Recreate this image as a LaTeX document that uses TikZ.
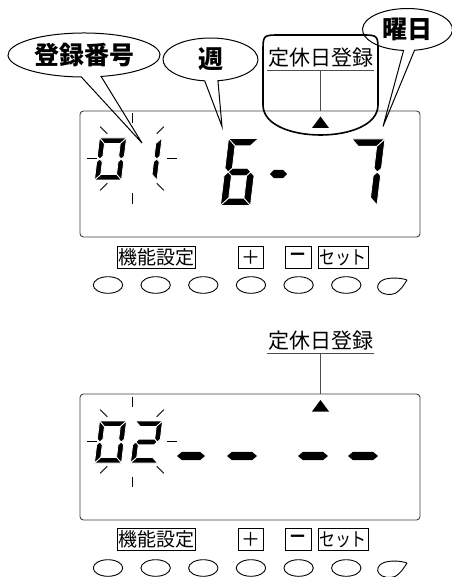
\documentclass[tikz,border=0pt]{standalone}
\usepackage{fontspec}
\newfontfamily\jp{Noto Sans CJK JP}
\usetikzlibrary{positioning, calc}

% seven-segment pieces, local frame: origin at middle left, y down
\newcommand{\lcdsega}{\fill[segfill] (0,-\dh) -- (\dw,-\dh) -- (\dw-\dt,-\dh+\dt) -- (\dt,-\dh+\dt) -- cycle;}
\newcommand{\lcdsegb}{\fill[segfill] (\dw,-\dh) -- (\dw,-\dt/2) -- (\dw-\dt/2,0) -- (\dw-\dt,-\dt/2) -- (\dw-\dt,-\dh+\dt) -- cycle;}
\newcommand{\lcdsegc}{\fill[segfill] (\dw,\dh) -- (\dw,\dt/2) -- (\dw-\dt/2,0) -- (\dw-\dt,\dt/2) -- (\dw-\dt,\dh-\dt) -- cycle;}
\newcommand{\lcdsegd}{\fill[segfill] (0,\dh) -- (\dw,\dh) -- (\dw-\dt,\dh-\dt) -- (\dt,\dh-\dt) -- cycle;}
\newcommand{\lcdsege}{\fill[segfill] (0,\dh) -- (0,\dt/2) -- (\dt/2,0) -- (\dt,\dt/2) -- (\dt,\dh-\dt) -- cycle;}
\newcommand{\lcdsegf}{\fill[segfill] (0,-\dh) -- (0,-\dt/2) -- (\dt/2,0) -- (\dt,-\dt/2) -- (\dt,-\dh+\dt) -- cycle;}
\newcommand{\lcdsegg}{\fill[segfill] (\dt/2,0) -- (\dt,-\dt/2) -- (\dw-\dt,-\dt/2) -- (\dw-\dt/2,0) -- (\dw-\dt,\dt/2) -- (\dt,\dt/2) -- cycle;}
% x, y, width, height, thickness, segments
\newcommand{\lcddigit}[6]{%
  \begin{scope}[shift={(#1,#2)}, xslant=0.12]
    \pgfmathsetmacro{\dw}{#3}\pgfmathsetmacro{\dh}{#4/2}\pgfmathsetmacro{\dt}{#5}
    \foreach \sg in {#6}{\csname lcdseg\sg\endcsname}
  \end{scope}}

\begin{document}
\begin{tikzpicture}[
  x=1pt, y=-1pt,
  font=\jp,
  segfill/.style={fill=black, draw=white, line width=0.8pt, line join=miter},
  display/.style={draw=black!75, line width=0.9pt, rounded corners=3.5pt,
                  minimum width=340pt, minimum height=126pt, inner sep=0},
  tag/.style={font=\jp\bfseries\fontsize{25}{25}\selectfont, inner sep=0},
  bubble/.style={draw, line width=1pt},
  offlbl/.style={font=\jp\fontsize{21}{21}\selectfont, text height=0.8em,
                 text depth=0.12em, inner xsep=0.5pt, inner ysep=3.5pt},
  uline/.style={draw=black!70, line width=1pt},
  keycap/.style={draw, line width=0.8pt, inner sep=0, minimum height=22pt,
                 font=\jp\fontsize{19}{19}\selectfont},
  btn/.style={draw, line width=0.9pt},
  ray/.style={line width=0.9pt}
]
\useasboundingbox[fill=white] (0,0) rectangle (451,577);

%% upper panel
\node[display] (dispTop) at (250,174) {};

\coordinate (blinkTop) at (132,158.5);
\foreach \a in {0,45,...,315}
  \draw[ray] (blinkTop) ++(\a:35) -- ++(\a:10);
\lcddigit{97}{159}{27}{42}{5.6}{a,b,c,d,e,f}
\lcddigit{132.5}{159}{27}{42}{5.6}{b,c}
\lcddigit{224.5}{172}{30}{67}{7.4}{a,f,g,e,d,c}
\fill (270,174) -- (274,169.8) -- (283,169.8) -- (287,174) -- (283,178.2) -- (274,178.2) -- cycle;
\lcddigit{348}{172}{33}{66}{7.4}{a,b,c}

% callouts
\node[tag] (numLbl) at (84,55) {登録番号};
\coordinate (numTip) at (142,143);
\draw[bubble] ($(numLbl.center)+(77:76 and 22)$)
  arc[start angle=77, end angle=-268, x radius=76, y radius=22] -- (numTip) -- cycle;

\node[tag] (weekLbl) at (210.5,59.5) {週};
\coordinate (weekTip) at (222,126.5);
\draw[bubble] ($(weekLbl.center)+(81:47.5 and 21.5)$)
  arc[start angle=81, end angle=-263, x radius=47.5, y radius=21.5] -- (weekTip) -- cycle;

\node[tag] (dayLbl) at (407.5,29.5) {曜日};
\coordinate (dayTip) at (383,126.5);
\draw[bubble] ($(dayLbl.center)+(81:45 and 21)$)
  arc[start angle=81, end angle=-265, x radius=45, y radius=21] -- (dayTip) -- cycle;

\node[offlbl] (offTop) at (320.5,62.5) {定休日登録};
\draw[uline] (offTop.south west) -- (offTop.south east);
\draw[uline] (offTop.south) -- (offTop.south |- dispTop.north);
\coordinate (markTop) at (320.5,122.5);
\fill (markTop) ++(-8.5,5.5) -- ++(17,0) -- ++(-8.5,-11.5) -- cycle;
\draw[line width=1.6pt] (263,105) -- (263,52) .. controls (263,35) .. (280,35)
  -- (361,35) .. controls (378,35) .. (378,52) -- (378,105)
  .. controls (378,145) and (263,145) .. (263,105);

% keys
\node[keycap, minimum width=78pt] (fnTop) at (156,257.5) {機能設定};
\node[keycap, minimum width=25pt] (plusTop) at (250.5,257.5) {＋};
\node[keycap, minimum width=26pt] (minusTop) at (298,257.5) {\bfseries －};
\node[keycap, minimum width=50pt] (setTop) at (343,257.5) {\scalebox{0.84}[1]{セット}};
\foreach \i in {0,...,5}
  \draw[btn] ({108+47.65*\i},285) ellipse[x radius=14.7, y radius=8.3];
\draw[btn] (407,280) .. controls (400,277.5) and (390,277.5) .. (384,279.5)
  .. controls (378,281.5) and (376,287) .. (379,290.5)
  .. controls (382,294.5) and (390,295.5) .. (395,293.5)
  .. controls (400,291) and (404,285) .. (407,280);

%% lower panel
\node[display] (dispBot) at (250,457) {};

\coordinate (blinkBot) at (132,441.5);
\foreach \a in {0,45,...,315}
  \draw[ray] (blinkBot) ++(\a:35) -- ++(\a:10);
\lcddigit{97}{442}{27}{42}{5.6}{a,b,c,d,e,f}
\lcddigit{133}{442}{27}{42}{5.6}{a,b,g,e,d}
\foreach \xa/\xb in {177/205, 227/257, 298/328, 348/378}
  \fill (\xa,456) -- (\xa+5,451.8) -- (\xb-5,451.8) -- (\xb,456)
    -- (\xb-5,460.2) -- (\xa+5,460.2) -- cycle;

\node[offlbl] (offBot) at (320.5,345.5) {定休日登録};
\draw[uline] (offBot.south west) -- (offBot.south east);
\draw[uline] (offBot.south) -- (offBot.south |- dispBot.north);
\coordinate (markBot) at (320.5,406);
\fill (markBot) ++(-8.5,5.5) -- ++(17,0) -- ++(-8.5,-11.5) -- cycle;

% keys
\node[keycap, minimum width=78pt] (fnBot) at (156,539.5) {機能設定};
\node[keycap, minimum width=25pt] (plusBot) at (250.5,539.5) {＋};
\node[keycap, minimum width=26pt] (minusBot) at (298,539.5) {\bfseries －};
\node[keycap, minimum width=50pt] (setBot) at (343,539.5) {\scalebox{0.84}[1]{セット}};
\foreach \i in {0,...,5}
  \draw[btn] ({108+47.65*\i},568) ellipse[x radius=14.7, y radius=8.3];
\draw[btn] (407,563) .. controls (400,560.5) and (390,560.5) .. (384,562.5)
  .. controls (378,564.5) and (376,570) .. (379,573.5)
  .. controls (382,577.5) and (390,578.5) .. (395,576.5)
  .. controls (400,574) and (404,568) .. (407,563);
\end{tikzpicture}
\end{document}
